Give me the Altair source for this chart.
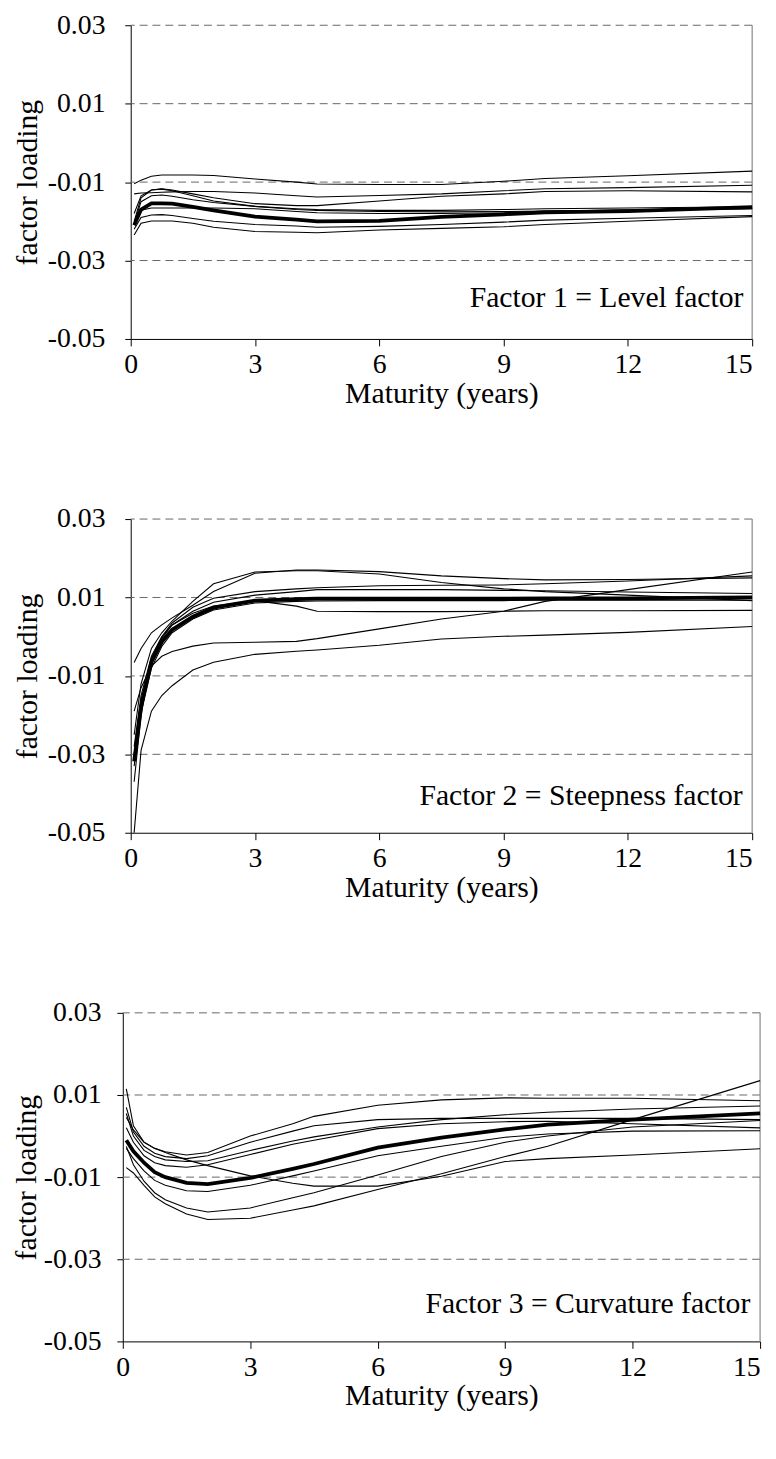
import altair as alt
import pandas as pd

FONT = "Liberation Serif, Times New Roman, serif"

# maturities (years) at which the loadings are read
MATURITY = [0.083, 0.25, 0.5, 0.75, 1, 1.5, 2, 3, 4, 4.5, 6, 7.5, 9, 10, 12, 15]

# ---- Factor 1: level ----
F1_MEAN = [-0.0210, -0.0170, -0.0154, -0.0154, -0.0155, -0.0163, -0.0172, -0.0188, -0.0196, -0.0200, -0.0199, -0.0189, -0.0182, -0.0177, -0.0174, -0.0164]
F1_L1 = [-0.0104, -0.0095, -0.0085, -0.0082, -0.0082, -0.0082, -0.0083, -0.0092, -0.0100, -0.0105, -0.0106, -0.0106, -0.0098, -0.0091, -0.0084, -0.0072]
F1_L2 = [-0.0130, -0.0128, -0.0127, -0.0126, -0.0125, -0.0124, -0.0124, -0.0128, -0.0135, -0.0138, -0.0134, -0.0130, -0.0122, -0.0117, -0.0114, -0.0108]
F1_L3 = [-0.0180, -0.0135, -0.0120, -0.0117, -0.0120, -0.0130, -0.0140, -0.0155, -0.0160, -0.0160, -0.0148, -0.0136, -0.0130, -0.0124, -0.0122, -0.0125]
F1_L4 = [-0.0200, -0.0140, -0.0120, -0.0118, -0.0122, -0.0135, -0.0148, -0.0162, -0.0168, -0.0170, -0.0172, -0.0172, -0.0170, -0.0168, -0.0166, -0.0163]
F1_L5 = [-0.0205, -0.0150, -0.0135, -0.0133, -0.0136, -0.0145, -0.0152, -0.0162, -0.0170, -0.0172, -0.0175, -0.0176, -0.0175, -0.0174, -0.0171, -0.0168]
F1_L6 = [-0.0200, -0.0172, -0.0166, -0.0166, -0.0166, -0.0166, -0.0166, -0.0168, -0.0175, -0.0178, -0.0180, -0.0180, -0.0178, -0.0174, -0.0171, -0.0168]
F1_L7 = [-0.0220, -0.0190, -0.0184, -0.0183, -0.0185, -0.0193, -0.0200, -0.0208, -0.0212, -0.0215, -0.0213, -0.0208, -0.0202, -0.0197, -0.0192, -0.0185]
F1_L8 = [-0.0235, -0.0205, -0.0199, -0.0199, -0.0199, -0.0205, -0.0215, -0.0226, -0.0228, -0.0229, -0.0222, -0.0218, -0.0214, -0.0208, -0.0200, -0.0188]

# ---- Factor 2: steepness ----
F2_MEAN = [-0.0318, -0.0180, -0.0065, -0.0013, 0.0018, 0.0051, 0.0074, 0.0092, 0.0096, 0.0097, 0.0097, 0.0097, 0.0097, 0.0098, 0.0098, 0.0100]
F2_L1 = [-0.0066, -0.0030, 0.0010, 0.0030, 0.0048, 0.0080, 0.0115, 0.0162, 0.0170, 0.0170, 0.0166, 0.0155, 0.0148, 0.0145, 0.0146, 0.0150]
F2_L2 = [-0.0250, -0.0120, -0.0030, 0.0010, 0.0040, 0.0090, 0.0135, 0.0165, 0.0168, 0.0168, 0.0160, 0.0138, 0.0122, 0.0115, 0.0106, 0.0092]
F2_L3 = [-0.0300, -0.0160, -0.0060, -0.0005, 0.0030, 0.0065, 0.0088, 0.0106, 0.0115, 0.0120, 0.0120, 0.0120, 0.0118, 0.0117, 0.0114, 0.0110]
F2_L4 = [-0.0330, -0.0190, -0.0080, -0.0025, 0.0010, 0.0045, 0.0068, 0.0086, 0.0090, 0.0091, 0.0092, 0.0092, 0.0092, 0.0093, 0.0093, 0.0093]
F2_L5 = [-0.0280, -0.0150, -0.0050, 0.0000, 0.0030, 0.0060, 0.0078, 0.0092, 0.0078, 0.0065, 0.0064, 0.0064, 0.0065, 0.0066, 0.0066, 0.0067]
F2_L6 = [-0.0190, -0.0130, -0.0075, -0.0050, -0.0038, -0.0024, -0.0016, -0.0014, -0.0012, -0.0005, 0.0020, 0.0045, 0.0065, 0.0090, 0.0120, 0.0165]
F2_L7 = [-0.0500, -0.0290, -0.0190, -0.0150, -0.0125, -0.0085, -0.0065, -0.0045, -0.0037, -0.0034, -0.0022, -0.0006, 0.0001, 0.0004, 0.0011, 0.0026]
F2_L8 = [-0.0370, -0.0200, -0.0055, 0.0000, 0.0035, 0.0075, 0.0098, 0.0115, 0.0122, 0.0125, 0.0130, 0.0131, 0.0132, 0.0135, 0.0142, 0.0155]

# ---- Factor 3: curvature ----
F3_MEAN = [-0.0010, -0.0037, -0.0065, -0.0088, -0.0100, -0.0114, -0.0117, -0.0102, -0.0080, -0.0068, -0.0028, -0.0004, 0.0016, 0.0028, 0.0040, 0.0055]
F3_L1 = [0.0115, 0.0025, -0.0015, -0.0030, -0.0038, -0.0046, -0.0040, 0.0000, 0.0030, 0.0048, 0.0075, 0.0088, 0.0093, 0.0092, 0.0092, 0.0086]
F3_L2 = [0.0070, 0.0010, -0.0025, -0.0042, -0.0050, -0.0055, -0.0048, -0.0015, 0.0012, 0.0025, 0.0040, 0.0043, 0.0043, 0.0043, 0.0043, 0.0040]
F3_L3 = [0.0055, 0.0000, -0.0035, -0.0050, -0.0058, -0.0062, -0.0060, -0.0035, -0.0012, -0.0002, 0.0022, 0.0040, 0.0052, 0.0058, 0.0066, 0.0073]
F3_L4 = [0.0020, -0.0015, -0.0048, -0.0065, -0.0072, -0.0076, -0.0070, -0.0045, -0.0020, -0.0010, 0.0018, 0.0030, 0.0035, 0.0036, 0.0030, 0.0020]
F3_L5 = [-0.0030, -0.0055, -0.0085, -0.0108, -0.0120, -0.0133, -0.0135, -0.0120, -0.0097, -0.0085, -0.0048, -0.0025, -0.0003, 0.0005, 0.0012, 0.0013]
F3_L6 = [0.0045, 0.0015, -0.0015, -0.0030, -0.0040, -0.0058, -0.0072, -0.0097, -0.0115, -0.0122, -0.0122, -0.0098, -0.0062, -0.0055, -0.0046, -0.0031]
F3_L7 = [-0.0025, -0.0070, -0.0110, -0.0138, -0.0155, -0.0175, -0.0185, -0.0175, -0.0150, -0.0138, -0.0095, -0.0050, -0.0015, 0.0000, 0.0022, 0.0038]
F3_L8 = [-0.0077, -0.0090, -0.0120, -0.0148, -0.0165, -0.0190, -0.0203, -0.0200, -0.0180, -0.0170, -0.0130, -0.0092, -0.0050, -0.0025, 0.0040, 0.0135]

Y_TICKS = [-0.05, -0.03, -0.01, 0.01, 0.03]
GRID_VALUES = [-0.03, -0.01, 0.01, 0.03]
X_TICKS = [0, 3, 6, 9, 12, 15]
PANEL_TITLES = ["Factor 1 = Level factor", "Factor 2 = Steepness factor", "Factor 3 = Curvature factor"]
ANNOT_X = [14.79, 14.77, 14.77]
ANNOT_Y = [-0.0419, -0.0429, -0.0430]


def panel(mean, lines, label, ax, ay, width, height, ylab_pad, ytitle_pad):
    rows = []
    for i, vals in enumerate(lines):
        for m, v in zip(MATURITY, vals):
            rows.append({"series": f"s{i}", "maturity": m, "loading": v})
    thin_df = pd.DataFrame(rows)
    mean_df = pd.DataFrame({"maturity": MATURITY, "loading": mean})
    grid_df = pd.DataFrame({"loading": GRID_VALUES})
    border_df = pd.DataFrame({"maturity": [15]})
    text_df = pd.DataFrame({"maturity": [ax], "loading": [ay], "label": [label]})

    x = alt.X(
        "maturity:Q",
        scale=alt.Scale(domain=[0, 15], nice=False, zero=False),
        axis=alt.Axis(
            values=X_TICKS, format="d", title="Maturity (years)", grid=False,
            domainColor="black", tickColor="black", tickSize=7,
            labelFont=FONT, labelFontSize=28, labelColor="black", labelPadding=5,
            labelAlign={"condition": {"test": "datum.value == 15", "value": "right"}, "value": "center"},
            titleFont=FONT, titleFontSize=30, titleFontWeight="normal", titleColor="black",
            titlePadding=0,
        ),
    )
    y = alt.Y(
        "loading:Q",
        scale=alt.Scale(domain=[-0.05, 0.03], nice=False, zero=False),
        axis=alt.Axis(
            values=Y_TICKS,
            labelExpr="datum.value < 0 ? '-' + format(abs(datum.value), '.2f') : format(datum.value, '.2f')",
            title="factor loading", grid=False,
            domainColor="black", tickColor="black", tickSize=6,
            labelFont=FONT, labelFontSize=28, labelColor="black", labelPadding=ylab_pad,
            titleFont=FONT, titleFontSize=30, titleFontWeight="normal", titleColor="black",
            titlePadding=ytitle_pad,
        ),
    )

    grid = alt.Chart(grid_df).mark_rule(color="#666666", strokeDash=[8, 5], strokeWidth=1).encode(y=y)
    border = alt.Chart(border_df).mark_rule(color="#888888", strokeWidth=1.2).encode(x=x)
    thin = alt.Chart(thin_df).mark_line(color="black", strokeWidth=1.1).encode(x=x, y=y, detail="series:N")
    thick = alt.Chart(mean_df).mark_line(color="black", strokeWidth=3.8).encode(x=x, y=y)
    text = alt.Chart(text_df).mark_text(
        align="right", baseline="alphabetic", font=FONT, fontSize=30, color="black"
    ).encode(x=x, y=y, text="label:N")
    return alt.layer(grid, border, thin, thick, text).properties(width=width, height=height)


p1 = panel(F1_MEAN, [F1_L1, F1_L2, F1_L3, F1_L4, F1_L5, F1_L6, F1_L7, F1_L8],
           PANEL_TITLES[0], ANNOT_X[0], ANNOT_Y[0], 628, 317, 20, 5)
p2 = panel(F2_MEAN, [F2_L1, F2_L2, F2_L3, F2_L4, F2_L5, F2_L6, F2_L7, F2_L8],
           PANEL_TITLES[1], ANNOT_X[1], ANNOT_Y[1], 628, 317, 20, 5)
p3 = panel(F3_MEAN, [F3_L1, F3_L2, F3_L3, F3_L4, F3_L5, F3_L6, F3_L7, F3_L8],
           PANEL_TITLES[2], ANNOT_X[2], ANNOT_Y[2], 644, 332, 16, 2)

chart = alt.vconcat(p1, p2, p3, spacing=182, bounds="flush", center=True).properties(
    padding={"left": 3, "top": -4, "right": 0, "bottom": 2}
).configure_view(stroke=None)

chart.save("out.html", embed_options={"renderer": "svg", "actions": False})
